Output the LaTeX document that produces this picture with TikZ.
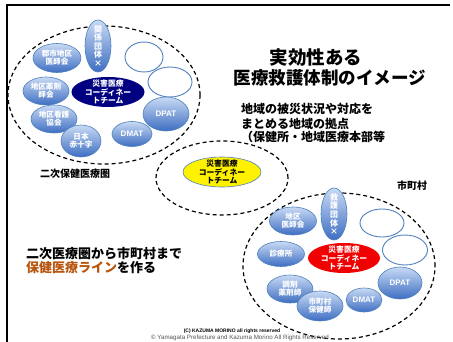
\documentclass[tikz,border=0pt]{standalone}
\usepackage{fontspec}
\setmainfont{Noto Sans CJK JP}
\newfontfamily\latinf{Liberation Sans}
\usetikzlibrary{shapes.geometric}
\definecolor{bubtop}{HTML}{C8DAF4}
\definecolor{bubbot}{HTML}{3E6EC2}
\definecolor{bubline}{HTML}{4F81BD}
\definecolor{navyteam}{HTML}{000080}
\definecolor{redteam}{HTML}{F00000}
\definecolor{orangetxt}{HTML}{B8560F}
\definecolor{copygray}{HTML}{555555}
\begin{document}
\begin{tikzpicture}[x=1pt,y=-1pt,
  bubble/.style={ellipse, draw=bubline, line width=0.6pt, top color=bubtop, bottom color=bubbot, inner sep=0pt},
  emptybub/.style={ellipse, draw=bubline, line width=0.9pt, fill=white, inner sep=0pt},
  btext/.style={text=white, font=\bfseries\fontsize{7.6}{8}\selectfont, align=center, inner sep=0pt},
  ltext/.style={text=white, font=\latinf\bfseries\fontsize{8}{8}\selectfont, inner sep=0pt},
  vtext/.style={text=white, font=\bfseries\fontsize{8}{8.6}\selectfont, align=center, inner sep=0pt},
  teamtext/.style={font=\bfseries\fontsize{7.8}{8.2}\selectfont, align=center, inner sep=0pt},
  zone/.style={ellipse, draw, dash pattern=on 4pt off 3pt, line width=1.2pt, inner sep=0pt},
  plain/.style={inner sep=0pt, anchor=west}]
\useasboundingbox (0,0) rectangle (453,342);
\fill[white] (0,0) rectangle (453,342);
% frame
\draw[line width=2pt] (6.5,342) -- (6.5,5) -- (450,5);

% zones
\node[zone, minimum width=192, minimum height=138] (zoneL) at (104,95) {};
\node[zone, minimum width=132, minimum height=74] (zoneM) at (222,178) {};
\node[zone, minimum width=192, minimum height=146] (zoneR) at (339,266) {};

% title
\node[inner sep=0pt, font=\bfseries\fontsize{18.5}{20}\selectfont] (title1) at (316,57) {実効性ある};
\node[inner sep=0pt, font=\bfseries\fontsize{17.5}{20}\selectfont] (title2) at (330,78) {医療救護体制のイメージ};

% right explanation
\node[plain, font=\bfseries\fontsize{12}{14}\selectfont] (exp1) at (241,109) {地域の被災状況や対応を};
\node[plain, font=\bfseries\fontsize{12}{14}\selectfont] (exp2) at (241,124) {まとめる地域の拠点};
\node[plain, font=\bfseries\fontsize{12}{14}\selectfont] (exp3) at (241,137) {（保健所・地域医療本部等};

% left cluster
\node[bubble, minimum width=48, minimum height=29] (L1) at (57,58) {};
\node[btext] (L1t) at (L1) {郡市地区\\医師会};
\node[bubble, minimum width=26, minimum height=52] (L2) at (98,46) {};
\node[vtext] (L2t) at (L2) {関\\係\\団\\体\\×};
\node[emptybub, minimum width=38, minimum height=30] (L3) at (144,57) {};
\node[emptybub, minimum width=44, minimum height=30] (L4) at (170,82) {};
\node[bubble, minimum width=46, minimum height=28] (L6) at (46,91) {};
\node[btext] (L6t) at (L6) {地区薬剤\\師会};
\node[bubble, minimum width=46, minimum height=28] (L7) at (54,119) {};
\node[btext] (L7t) at (L7) {地区看護\\協会};
\node[bubble, minimum width=40, minimum height=32] (L8) at (81,141) {};
\node[btext] (L8t) at (L8) {日本\\赤十字};
\node[bubble, minimum width=40, minimum height=25] (L9) at (132,134) {};
\node[ltext] (L9t) at (L9) {DMAT};
\node[bubble, minimum width=46, minimum height=34] (L5) at (166,114) {};
\node[ltext] (L5t) at (L5) {DPAT};
\node[ellipse, fill=navyteam, minimum width=73, minimum height=30, inner sep=0pt] (LT) at (108,92) {};
\node[teamtext, text=white] (LTt) at (LT) {災害医療\\コーディネー\\トチーム};
\node[plain, font=\bfseries\fontsize{10}{12}\selectfont] (labL) at (40,174) {二次保健医療圏};

% middle
\node[ellipse, fill=yellow, draw=bubline, line width=0.6pt, minimum width=78, minimum height=30, inner sep=0pt] (MT) at (222,172) {};
\node[teamtext, text=black] (MTt) at (MT) {災害医療\\コーディネー\\トチーム};

% right cluster
\node[bubble, minimum width=26, minimum height=52] (R2) at (334,214) {};
\node[vtext] (R2t) at (R2) {救\\護\\団\\体\\×};
\node[bubble, minimum width=47, minimum height=28] (R1) at (293,221) {};
\node[btext] (R1t) at (R1) {地区\\医師会};
\node[emptybub, minimum width=44, minimum height=28] (R3) at (382,223) {};
\node[emptybub, minimum width=45, minimum height=30] (R4) at (405,250) {};
\node[bubble, minimum width=47, minimum height=25] (R6) at (281,254) {};
\node[btext] (R6t) at (R6) {診療所};
\node[bubble, minimum width=46, minimum height=28] (R7) at (290,289) {};
\node[btext] (R7t) at (R7) {調剤\\薬剤師};
\node[bubble, minimum width=46, minimum height=30] (R8) at (320,306) {};
\node[btext] (R8t) at (R8) {市町村\\保健師};
\node[bubble, minimum width=36, minimum height=24] (R9) at (364,300) {};
\node[ltext] (R9t) at (R9) {DMAT};
\node[bubble, minimum width=44, minimum height=32] (R5) at (400,283) {};
\node[ltext] (R5t) at (R5) {DPAT};
\node[ellipse, fill=redteam, minimum width=72, minimum height=30, inner sep=0pt] (RT) at (344,258) {};
\node[teamtext, text=white] (RTt) at (RT) {災害医療\\コーディネー\\トチーム};
\node[inner sep=0pt, font=\bfseries\fontsize{10}{12}\selectfont] (labR) at (412,186) {市町村};

% bottom-left statement
\node[plain, font=\bfseries\fontsize{13}{15}\selectfont] (stm1) at (26,254) {二次医療圏から市町村まで};
\node[plain, font=\bfseries\fontsize{13}{15}\selectfont] (stm2) at (26,268) {\textcolor{orangetxt}{保健医療ライン}を作る};

% copyright
\node[inner sep=0pt, font=\latinf\bfseries\fontsize{5}{6}\selectfont] (copy1) at (232,331.5) {(C) KAZUMA MORINO all rights reserved};
\node[inner sep=0pt, text=copygray, font=\latinf\fontsize{6.2}{7}\selectfont] (copy2) at (240,338) {\textcopyright\ Yamagata Prefecture and Kazuma Morino All Rights Reserved};
\end{tikzpicture}
\end{document}
